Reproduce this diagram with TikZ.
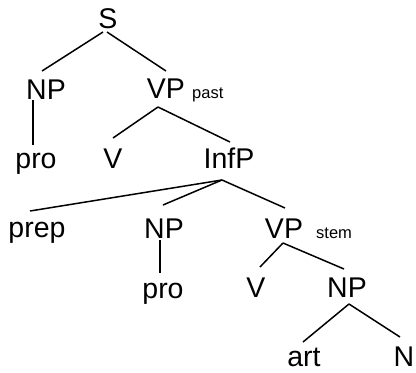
\documentclass[tikz,border=0pt]{standalone}
\usepackage{fontspec}
\setmainfont{Liberation Sans}
\begin{document}
\begin{tikzpicture}[x=1pt,y=-1pt,
  cat/.style={inner sep=0pt,anchor=base,font=\fontsize{28.5}{31}\selectfont},
  sub/.style={inner sep=0pt,anchor=base west,font=\fontsize{16.5}{19}\selectfont},
  edge/.style={line width=1.5pt}]
\useasboundingbox (0,0) rectangle (416,373);
\node[cat] (S) at (108,28) {S};
\node[cat] (NPa) at (46,99) {NP};
\node[cat] (VPa) at (166,98) {VP};
\node[sub] (past) at (192,98) {past};
\node[cat] (proa) at (36,168) {pro};
\node[cat] (Va) at (113,168) {V};
\node[cat] (InfP) at (229,168) {InfP};
\node[cat] (prep) at (37,237) {prep};
\node[cat] (NPb) at (164,238) {NP};
\node[cat] (prob) at (163,298) {pro};
\node[cat] (VPb) at (284,238) {VP};
\node[sub] (stem) at (316,238) {stem};
\node[cat] (Vb) at (256,297) {V};
\node[cat] (NPc) at (347,297) {NP};
\node[cat] (art) at (304,366) {art};
\node[cat] (N) at (404,366) {N};
\draw[edge] ([shift={(-5,4)}]S.base) -- ([shift={(-4,-28)}]NPa.base);
\draw[edge] ([shift={(-1,4)}]S.base) -- ([shift={(0,-27)}]VPa.base);
\draw[edge] ([shift={(-13,1)}]NPa.base) -- ([shift={(-3,-23)}]proa.base);
\draw[edge] ([shift={(-8,9)}]VPa.base) -- ([shift={(0,-30)}]Va.base);
\draw[edge] ([shift={(-8,9)}]VPa.base) -- ([shift={(1,-26)}]InfP.base);
\draw[edge] ([shift={(-7,12)}]InfP.base) -- ([shift={(-7,-26)}]prep.base);
\draw[edge] ([shift={(-7,12)}]InfP.base) -- ([shift={(-1,-33)}]NPb.base);
\draw[edge] ([shift={(-7,12)}]InfP.base) -- ([shift={(1,-30)}]VPb.base);
\draw[edge] ([shift={(-4,2)}]NPb.base) -- ([shift={(-3,-25)}]prob.base);
\draw[edge] ([shift={(-1,5)}]VPb.base) -- ([shift={(4,-30)}]Vb.base);
\draw[edge] ([shift={(-1,5)}]VPb.base) -- ([shift={(-3,-28)}]NPc.base);
\draw[edge] ([shift={(2,7)}]NPc.base) -- ([shift={(-1,-24)}]art.base);
\draw[edge] ([shift={(2,7)}]NPc.base) -- ([shift={(-4,-29)}]N.base);
\end{tikzpicture}
\end{document}
